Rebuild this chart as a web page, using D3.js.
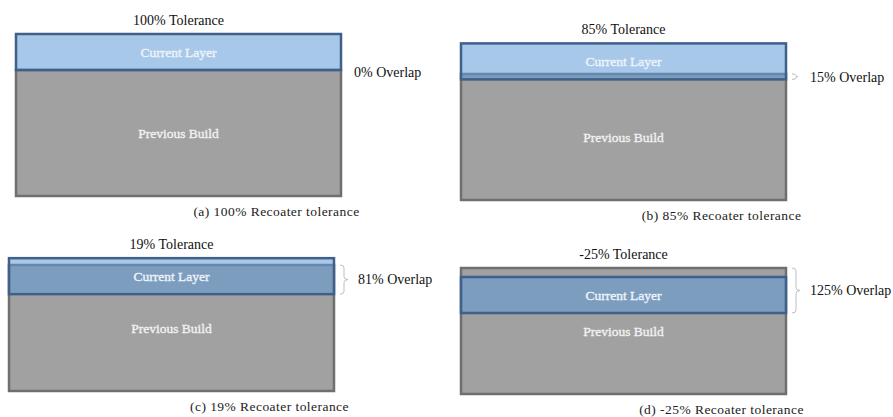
<!DOCTYPE html>
<html lang="en">
  <head>
    <meta charset="UTF-8" />
    <title>Recoater tolerance</title>
    <script src="https://d3js.org/d3.v7.min.js"></script>
    <style>
      body { margin: 0; background: #fff; }
    </style>
  </head>
  <body>
    <script>
      const width = 893;
      const height = 417;
      const font = "'Liberation Serif', 'Times New Roman', serif";

      // data
      const panelIds = ["a", "b", "c", "d"];
      const tolerance = [100, 85, 19, -25]; // % of layer thickness
      const layerThickness = 1;  // layer units
      const buildDepth = 3.5;    // previous build depth, layer units

      // where each panel sits on the page (box left, top of previous build)
      const panelX = [16, 461, 9, 461];
      const panelBuildTop = [70, 74, 265, 268];
      const boxW = 325;
      const unit = 36;

      const svg = d3.select("body").append("svg")
        .attr("width", width).attr("height", height);

      const grey = "#a1a1a1", greyEdge = "#6f6f6f";
      const layerFill = "rgb(96,155,216)", layerEdge = "#3f6089";

      function label(g, x, y, str, size, fill) {
        return g.append("text")
          .attr("x", x).attr("y", y)
          .attr("fill", fill)
          .style("font-family", font).style("font-size", size + "px")
          .text(str);
      }

      panelIds.forEach((id, i) => {
        const t = tolerance[i] / 100;
        const x = d3.scaleLinear().domain([0, 1]).range([panelX[i], panelX[i] + boxW]);
        const y = d3.scaleLinear().domain([0, 1]).range([panelBuildTop[i], panelBuildTop[i] + unit]);
        const g = svg.append("g");

        const layerTop = -t, layerBot = -t + layerThickness;
        const stackTop = Math.min(layerTop, 0);
        const cx = x(0.5);

        // previous build
        g.append("rect")
          .attr("x", x(0)).attr("y", y(0))
          .attr("width", x(1) - x(0)).attr("height", y(buildDepth) - y(0))
          .attr("fill", grey).attr("stroke", greyEdge).attr("stroke-width", 2.5);

        // current layer
        g.append("rect")
          .attr("x", x(0)).attr("y", y(layerTop))
          .attr("width", x(1) - x(0)).attr("height", y(layerBot) - y(layerTop))
          .attr("fill", layerFill).attr("fill-opacity", 0.55)
          .attr("stroke", layerEdge).attr("stroke-width", 2.5);

        label(g, cx, (y(layerTop) + y(layerBot)) / 2, "Current Layer", 13.5, "#eef4fa")
          .attr("dy", "0.35em").attr("text-anchor", "middle")
          .attr("stroke", "#eef4fa").attr("stroke-width", 0.35);

        label(g, cx, (y(0) + y(buildDepth)) / 2, "Previous Build", 13.5, "#f2f2f2")
          .attr("dy", "0.35em").attr("text-anchor", "middle")
          .attr("stroke", "#f2f2f2").attr("stroke-width", 0.35);

        // title
        label(g, cx, y(stackTop) - 9, `${tolerance[i]}% Tolerance`, 14, "#111")
          .attr("text-anchor", "middle");

        // overlap bracket + label
        const overlap = 100 - tolerance[i];
        let labelX = x(1) + 13, labelY = y(0) + 2;
        if (overlap > 0) {
          const bx = x(1) + 6, top = y(0), bot = y(layerBot), mid = (top + bot) / 2;
          const r = Math.min(3, (bot - top) / 4);
          const nub = Math.min(4, (bot - top) / 3);
          g.append("path")
            .attr("d", `M${bx},${top} Q${bx + 4},${top} ${bx + 4},${top + r}
                        L${bx + 4},${mid - r} Q${bx + 4},${mid} ${bx + 4 + nub},${mid}
                        Q${bx + 4},${mid} ${bx + 4},${mid + r}
                        L${bx + 4},${bot - r} Q${bx + 4},${bot} ${bx},${bot}`)
            .attr("fill", "none").attr("stroke", "#bdbdbd").attr("stroke-width", 1);
          labelX = x(1) + 24;
          labelY = mid;
        }
        label(g, labelX, labelY, `${overlap}% Overlap`, 14, "#111")
          .attr("dy", "0.35em");

        // caption
        label(g, cx + 98, y(buildDepth) + 20, `(${id}) ${tolerance[i]}% Recoater tolerance`, 13.5, "#222")
          .attr("text-anchor", "middle").style("letter-spacing", "0.45px");
      });
    </script>
  </body>
</html>
